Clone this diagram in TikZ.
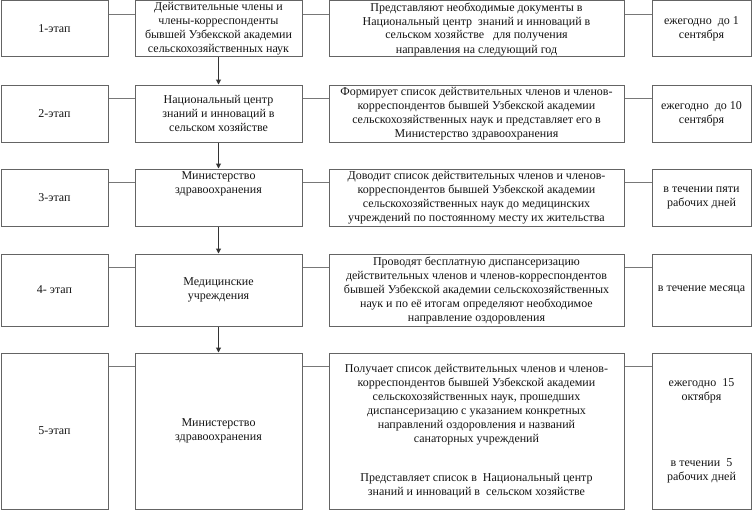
\documentclass[tikz,border=0pt]{standalone}
\usepackage{fontspec}
\setmainfont{Liberation Serif}
\newfontfamily\rufont[Script=Cyrillic]{Liberation Serif}
\usetikzlibrary{arrows.meta}

\definecolor{boxgray}{RGB}{100,100,100}
\definecolor{linegray}{RGB}{120,120,120}
\definecolor{txtgray}{RGB}{20,20,20}

\tikzset{
  box/.style={draw=boxgray, line width=1pt, align=center, inner sep=1pt, text=txtgray, font=\rufont\fontsize{12}{14}\selectfont},
  plain/.style={align=center, inner sep=1pt, text=txtgray, font=\rufont\fontsize{12}{14}\selectfont},
  link/.style={draw=linegray, line width=1pt},
  flow/.style={draw=black!80, line width=1pt, -{Triangle[width=5pt,length=5pt]}},
}

\begin{document}
\begin{tikzpicture}[x=1pt,y=1pt,yscale=-1]
\useasboundingbox (0,0) rectangle (754,511);

% Stage boxes
\node[box, minimum width=107, minimum height=56] (s1) at (54.5,29) {1-этап};
\node[box, minimum width=107, minimum height=57] (s2) at (54.5,113.5) {2-этап};
\node[box, minimum width=107, minimum height=57] (s3) at (54.5,197.5) {3-этап};
\node[box, minimum width=107, minimum height=72] (s4) at (54.5,290) {4- этап};
\node[box, minimum width=107, minimum height=156] (s5) at (54.5,431) {5-этап};

% Actor boxes
\node[box, minimum width=167, minimum height=56] (a1) at (218.5,29) {Действительные члены и\\члены-корреспонденты\\бывшей Узбекской академии\\сельскохозяйственных наук};
\node[box, minimum width=167, minimum height=57] (a2) at (218.5,113.5) {Национальный центр\\знаний и инноваций в\\сельском хозяйстве};
\node[box, minimum width=167, minimum height=57] (a3) at (218.5,197.5) {};
\node[plain] (a3t) at (218.5,184) {Министерство\\здравоохранения};
\node[box, minimum width=167, minimum height=72] (a4) at (218.5,290) {Медицинские\\учреждения};
\node[box, minimum width=167, minimum height=156] (a5) at (218.5,431) {Министерство\\здравоохранения};

% Action boxes
\node[box, minimum width=295, minimum height=56] (d1) at (476.5,29) {Представляют необходимые документы в\\Национальный центр \ знаний и инноваций в\\сельском хозяйстве \ \ для получения\\направления на следующий год};
\node[box, minimum width=295, minimum height=57] (d2) at (476.5,113.5) {Формирует список действительных членов и членов-\\корреспондентов бывшей Узбекской академии\\сельскохозяйственных наук и представляет его в\\Министерство здравоохранения};
\node[box, minimum width=295, minimum height=57] (d3) at (476.5,197.5) {Доводит список действительных членов и членов-\\корреспондентов бывшей Узбекской академии\\сельскохозяйственных наук до медицинских\\учреждений по постоянному месту их жительства};
\node[box, minimum width=295, minimum height=72] (d4) at (476.5,290) {Проводят бесплатную диспансеризацию\\действительных членов и членов-корреспондентов\\бывшей Узбекской академии сельскохозяйственных\\наук и по её итогам определяют необходимое\\направление оздоровления};
\node[box, minimum width=295, minimum height=156] (d5) at (476.5,431) {Получает список действительных членов и членов-\\корреспондентов бывшей Узбекской академии\\сельскохозяйственных наук, прошедших\\диспансеризацию с указанием конкретных\\направлений оздоровления и названий\\санаторных учреждений\\[25pt]Представляет список в \ Национальный центр\\знаний и инноваций в \ сельском хозяйстве};

% Term boxes
\node[box, minimum width=99, minimum height=56] (t1) at (701.5,29) {ежегодно \ до 1\\сентября};
\node[box, minimum width=99, minimum height=57] (t2) at (701.5,113.5) {ежегодно \ до 10\\сентября};
\node[box, minimum width=99, minimum height=57] (t3) at (701.5,197.5) {в течении пяти\\рабочих дней};
\node[box, minimum width=99, minimum height=72] (t4) at (701.5,290) {в течение месяца};
\node[box, minimum width=99, minimum height=156] (t5) at (701.5,431) {ежегодно \ 15\\октября\\[52pt]в течении \ 5\\рабочих дней};

% Row links (yshift is flipped by yscale=-1, so positive goes down)
\foreach \i in {1,...,5} {
  \draw[link] ([yshift=14pt]s\i.north east) -- ([yshift=14pt]a\i.north west);
  \draw[link] ([yshift=14pt]a\i.north east) -- ([yshift=14pt]d\i.north west);
  \draw[link] ([yshift=14pt]d\i.north east) -- ([yshift=14pt]t\i.north west);
}

% Flow arrows
\draw[flow] (a1.south) -- (a2.north);
\draw[flow] (a2.south) -- (a3.north);
\draw[flow] (a3.south) -- (a4.north);
\draw[flow] (a4.south) -- (a5.north);

\end{tikzpicture}
\end{document}
